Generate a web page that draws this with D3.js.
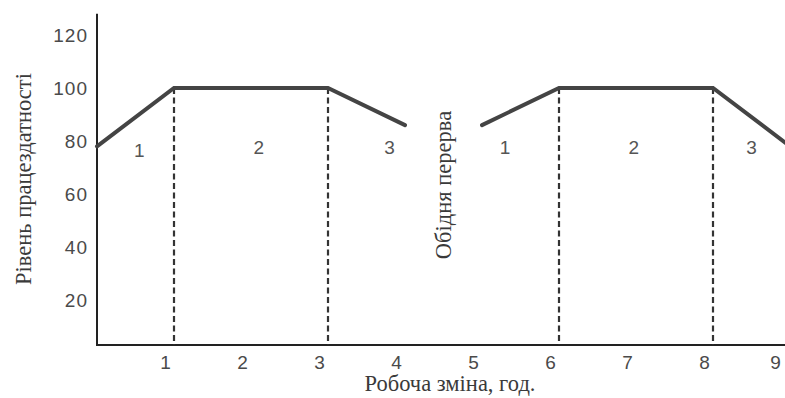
<!DOCTYPE html>
<html>
<head>
<meta charset="utf-8">
<script src="https://cdn.jsdelivr.net/npm/d3@7"></script>
<style>
  html, body { margin: 0; padding: 0; background: #fff; }
  svg { display: block; }
  .tick-label { font-family: "Liberation Sans", Arial, sans-serif; font-size: 19px; fill: #4a4a4a; letter-spacing: 1px; }
  .phase-label { font-family: "Liberation Sans", Arial, sans-serif; font-size: 19px; fill: #555; }
  .serif-label { font-family: "Liberation Serif", "Times New Roman", serif; font-size: 22.5px; fill: #3a3a3a; }
</style>
</head>
<body>
<svg id="chart" width="785" height="398"></svg>
<script>
// Work capacity over a shift, split by the lunch break
const hours = [0, 1, 2, 3, 4, 5, 6, 7, 8, 9];
const yTicks = [20, 40, 60, 80, 100, 120];

// Before the lunch break
const morningHours = [0, 1, 3, 4];
const morningLevel = [78, 100, 100, 86];

// After the lunch break
const afternoonHours = [5, 6, 8, 9];
const afternoonLevel = [86, 100, 100, 78];

// Boundaries between the phases (dashed verticals)
const phaseBounds = [1, 3, 6, 8];

// Phase numbers and their positions [hour, level]
const phaseNames = ["1", "2", "3", "1", "2", "3"];
const phaseHours = [0.55, 2.1, 3.8, 5.3, 6.97, 8.5];
const phaseLevels = [74, 75, 75, 75, 75, 75];

const xTitle = "Робоча зміна, год.";
const yTitle = "Рівень працездатності";
const breakTitle = "Обідня перерва";

const W = 785;
const svg = d3.select("#chart");

const x = d3.scaleLinear().domain([0, 9]).range([97, 790]);
const y = d3.scaleLinear().domain([0, 120]).range([353, 35]);
const axisLevel = 3;      // the horizontal axis sits slightly above zero
const axisTopLevel = 128; // top end of the vertical axis

// Axes
svg.append("line")
  .attr("x1", x(0)).attr("x2", W)
  .attr("y1", y(axisLevel)).attr("y2", y(axisLevel))
  .attr("stroke", "#222").attr("stroke-width", 2);
svg.append("line")
  .attr("x1", x(0)).attr("x2", x(0))
  .attr("y1", y(axisLevel) + 1).attr("y2", y(axisTopLevel))
  .attr("stroke", "#222").attr("stroke-width", 2);

// Tick labels (the last one is kept inside the frame)
svg.selectAll(".xt").data(hours.slice(1)).enter().append("text")
  .attr("class", "tick-label")
  .attr("x", d => Math.min(x(d) - 8, W - 9))
  .attr("y", y(axisLevel) + 24)
  .attr("text-anchor", "middle")
  .text(d => d);

svg.selectAll(".yt").data(yTicks).enter().append("text")
  .attr("class", "tick-label")
  .attr("x", x(0) - 9)
  .attr("y", d => y(d) + 7)
  .attr("text-anchor", "end")
  .text(d => d);

// Dashed phase boundaries
svg.selectAll(".bound").data(phaseBounds).enter().append("line")
  .attr("x1", d => x(d)).attr("x2", d => x(d))
  .attr("y1", y(100)).attr("y2", y(axisLevel))
  .attr("stroke", "#333").attr("stroke-width", 2.2)
  .attr("stroke-dasharray", "6,3.5");

// Capacity curves
const line = d3.line().x(d => x(d[0])).y(d => y(d[1]));
[[morningHours, morningLevel], [afternoonHours, afternoonLevel]].forEach(([hs, vs]) => {
  svg.append("path")
    .datum(hs.map((h, i) => [h, vs[i]]))
    .attr("d", line)
    .attr("fill", "none")
    .attr("stroke", "#444")
    .attr("stroke-width", 4)
    .attr("stroke-linejoin", "miter")
    .attr("stroke-linecap", "round");
});

// Phase numbers
svg.selectAll(".phase").data(phaseNames).enter().append("text")
  .attr("class", "phase-label")
  .attr("x", (d, i) => x(phaseHours[i]))
  .attr("y", (d, i) => y(phaseLevels[i]))
  .attr("text-anchor", "middle")
  .text(d => d);

// Titles
svg.append("text")
  .attr("class", "serif-label")
  .attr("x", 450).attr("y", 391)
  .attr("text-anchor", "middle")
  .text(xTitle);

svg.append("text")
  .attr("class", "serif-label")
  .attr("transform", "translate(31,179) rotate(-90)")
  .attr("text-anchor", "middle")
  .text(yTitle);

svg.append("text")
  .attr("class", "serif-label")
  .attr("transform", "translate(451,185) rotate(-90)")
  .attr("text-anchor", "middle")
  .text(breakTitle);
</script>
</body>
</html>
